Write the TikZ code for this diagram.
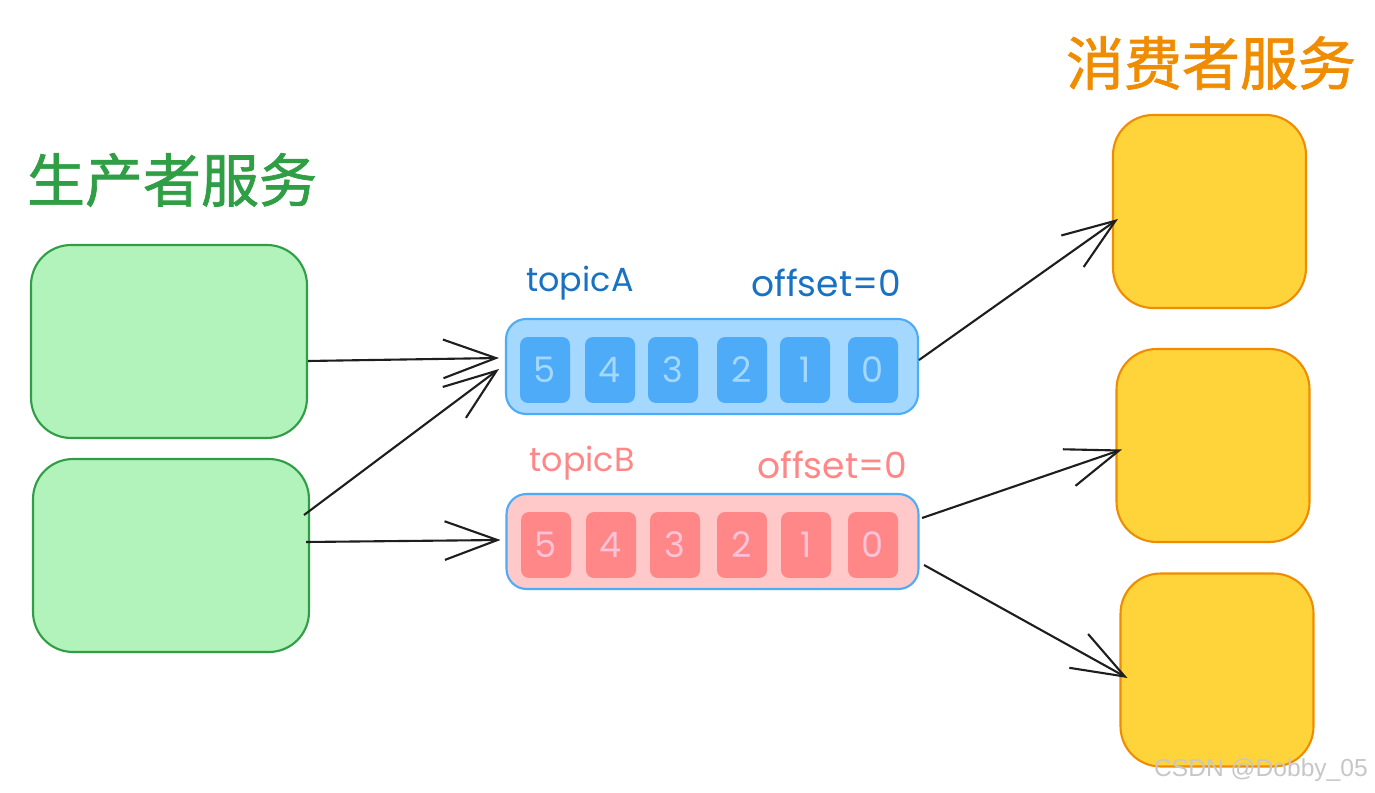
\documentclass[tikz,border=0pt]{standalone}
\usepackage{fontspec}
\setmainfont{Poppins}
\newfontfamily\cjk[FakeBold=1.2]{Noto Sans CJK SC}
\newfontfamily\wm{Liberation Sans}
\usetikzlibrary{arrows.meta,calc}
\definecolor{gfill}{HTML}{B2F2BB}
\definecolor{gline}{HTML}{2F9E44}
\definecolor{yfill}{HTML}{FFD43B}
\definecolor{yline}{HTML}{F08C00}
\definecolor{bfill}{HTML}{A5D8FF}
\definecolor{bline}{HTML}{4DABF7}
\definecolor{bcell}{HTML}{4DABF7}
\definecolor{btext}{HTML}{1971C2}
\definecolor{pfill}{HTML}{FFC9C9}
\definecolor{pcell}{HTML}{FF8787}
\definecolor{pnum}{HTML}{FCC2D7}
\definecolor{arr}{HTML}{1E1E1E}
\tikzset{
  prod/.style={draw=gline, fill=gfill, line width=1.2pt, rounded corners=0.8cm, minimum width=5.52cm, minimum height=3.86cm},
  cons/.style={draw=yline, fill=yfill, line width=1.2pt, rounded corners=0.8cm, minimum width=3.86cm, minimum height=3.86cm},
  topicbox/.style={draw=bline, line width=1.2pt, rounded corners=0.4cm, minimum width=8.24cm, minimum height=1.9cm},
  cellbox/.style={rounded corners=0.16cm, minimum width=1.0cm, minimum height=1.32cm, inner sep=0pt, font=\fontsize{20}{20}\selectfont},
  bcellst/.style={cellbox, fill=bcell, text=bfill},
  pcellst/.style={cellbox, fill=pcell, text=pnum},
  lbl/.style={font=\fontsize{19}{22}\selectfont, inner sep=0pt},
  offl/.style={font=\fontsize{20.5}{22}\selectfont, inner sep=0pt},
  title/.style={font=\cjk\fontsize{33}{36}\selectfont, inner sep=0pt},
  conn/.style={draw=arr, line width=1.2pt, -{Straight Barb[length=30pt,width=22pt,line width=1.2pt]}},
}
\begin{document}
\begin{tikzpicture}[x=0.02cm, y=-0.02cm]
\useasboundingbox (0,0) rectangle (1375,793);
\fill[white] (0,0) rectangle (1375,793);
% titles
\node[title, text=gline] (tp) at (172,180) {生产者服务};
\node[title, text=yline] (tc) at (1211,63) {消费者服务};
% producers
\node[prod] (p1) at (169,341.5) {};
\node[prod] (p2) at (171,555.5) {};
% consumers
\node[cons] (c1) at (1209.5,211.5) {};
\node[cons] (c2) at (1213,445.5) {};
\node[cons] (c3) at (1217,670) {};
% topic A
\node[topicbox, fill=bfill] (tA) at (712,366.5) {};
\node[bcellst] (a5) at (545,370) {5};
\node[bcellst] (a4) at (610,370) {4};
\node[bcellst] (a3) at (673,370) {3};
\node[bcellst] (a2) at (742,370) {2};
\node[bcellst] (a1) at (805,370) {1};
\node[bcellst] (a0) at (873,370) {0};
\node[lbl, text=btext] (la) at (580,283) {topicA};
\node[offl, text=btext] (oa) at (826,283) {offset=0};
% topic B
\node[topicbox, fill=pfill] (tB) at (712.5,541.5) {};
\node[pcellst] (b5) at (546,545) {5};
\node[pcellst] (b4) at (611,545) {4};
\node[pcellst] (b3) at (675,545) {3};
\node[pcellst] (b2) at (742,545) {2};
\node[pcellst] (b1) at (806,545) {1};
\node[pcellst] (b0) at (873,545) {0};
\node[lbl, text=pcell] (lb) at (582,463) {topicB};
\node[offl, text=pcell] (ob) at (832,465) {offset=0};
% connectors
\draw[conn] ($(p1.east)+(0,19.5)$) -- ($(tA.west)+(-6,-8.5)$);
\draw[conn] ($(p2.east)+(-6,-40.5)$) -- ($(tA.west)+(-6,2.5)$);
\draw[conn] ($(p2.east)+(-4,-13.5)$) -- ($(tB.west)+(-5,-1.5)$);
\draw[conn] ($(tA.east)+(0,-6.5)$) -- ($(c1.west)+(6,7.5)$);
\draw[conn] ($(tB.east)+(2.5,-23.5)$) -- ($(c2.west)+(6.5,4)$);
\draw[conn] ($(tB.east)+(4.5,23.5)$) -- ($(c3.west)+(8,8)$);
% watermark
\node[font=\wm\fontsize{14}{16}\selectfont, text=black!22, inner sep=0pt] (wm) at (1261,770) {CSDN @Dobby\_05};
\end{tikzpicture}
\end{document}
